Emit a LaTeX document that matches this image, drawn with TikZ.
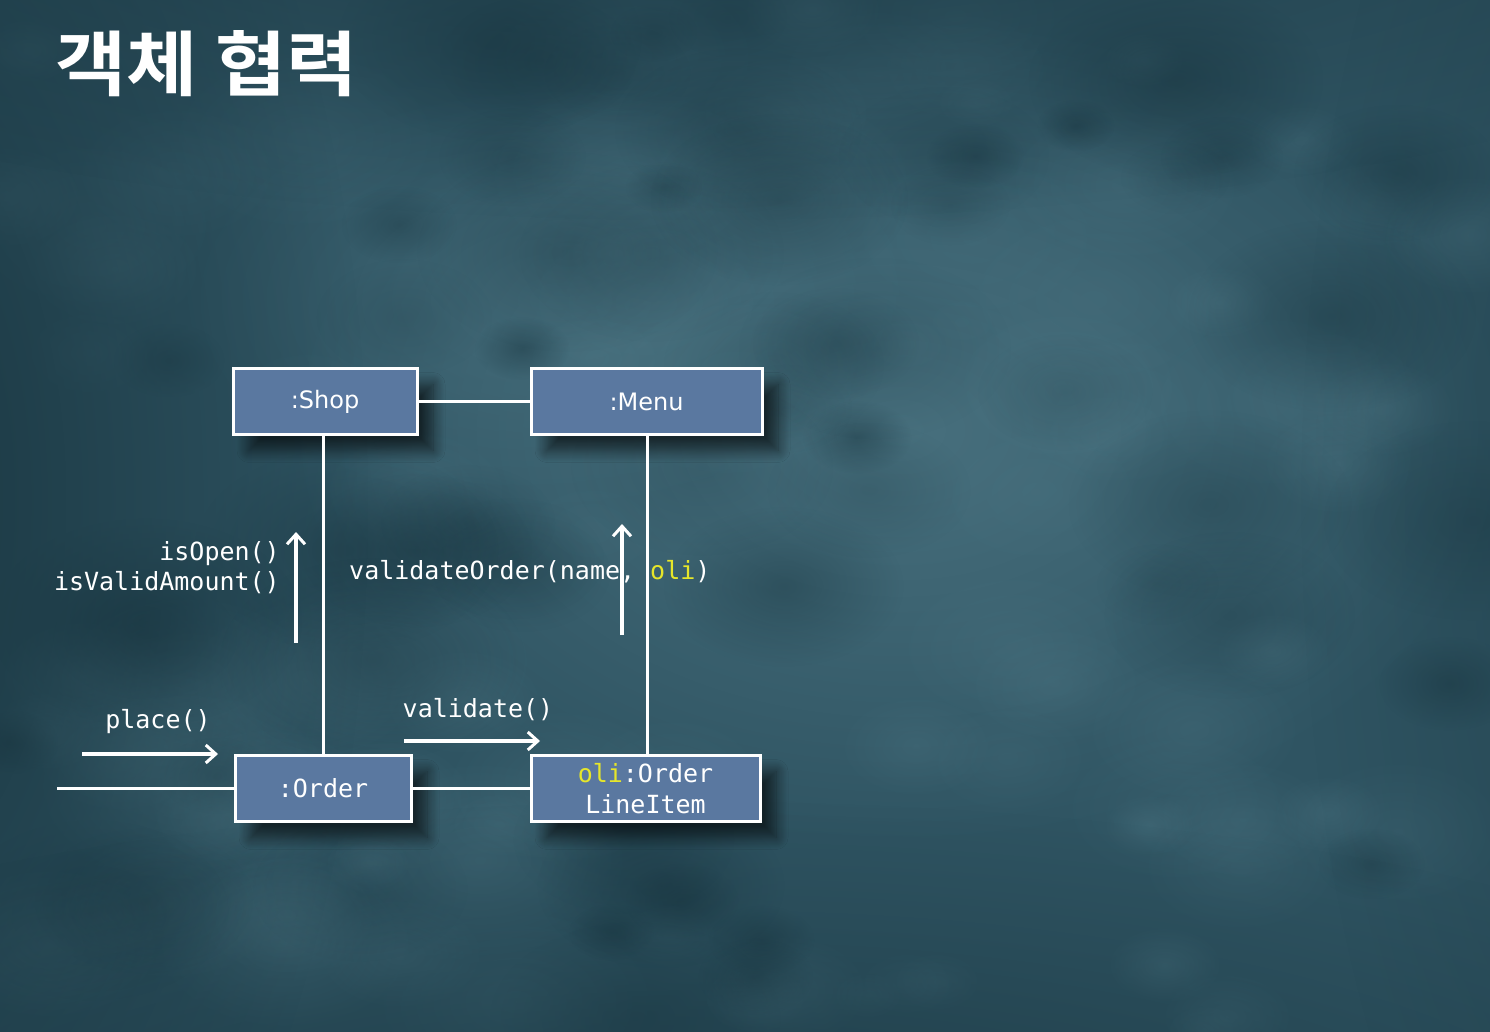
\documentclass[tikz,border=0pt]{standalone}
\usepackage{fontspec}
\setmonofont{DejaVu Sans Mono}
\setsansfont{DejaVu Sans}
\newfontfamily\krfont{Noto Sans CJK KR Bold}
\usetikzlibrary{arrows.meta,shadows.blur,calc,fadings}
\tikzfading[name=softblob, inner color=transparent!0, outer color=transparent!100]
\definecolor{bgmid}{HTML}{2F5462}
\definecolor{bgdark}{HTML}{15303A}
\definecolor{bglight}{HTML}{4E7785}
\definecolor{boxfill}{HTML}{5A78A0}
\definecolor{oliyellow}{HTML}{E6E62A}
\tikzset{
  objbox/.style={draw=white, line width=3pt, fill=boxfill, text=white,
    inner sep=0pt, minimum height=66pt,
    blur shadow={shadow xshift=16pt, shadow yshift=-16pt, shadow blur steps=12, shadow blur radius=12pt, shadow opacity=60}},
  wire/.style={draw=white, line width=3pt},
  msg/.style={draw=white, line width=3.2pt, -{Straight Barb[length=10pt,width=18pt,line width=3pt]}},
  lbl/.style={text=white, font=\ttfamily\fontsize{25}{31}\selectfont, inner sep=0pt},
}
\begin{document}
\begin{tikzpicture}[x=1pt,y=-1pt]
\useasboundingbox (0,0) rectangle (1490,1032);
% background
\fill[bgmid] (0,0) rectangle (1490,1032);
\begin{scope}
\clip (0,0) rectangle (1490,1032);
\fill[bglight, path fading=softblob, opacity=0.8] (900,430) ellipse (620 and 420);
\fill[bglight, path fading=softblob, opacity=0.5] (560,300) ellipse (380 and 220);
\pgfmathsetseed{7}
\foreach \i in {1,...,90}{
  \pgfmathsetmacro{\bx}{rnd*1490}
  \pgfmathsetmacro{\by}{rnd*1032}
  \pgfmathsetmacro{\br}{25+rnd*80}
  \pgfmathsetmacro{\bo}{0.15+rnd*0.25}
  \fill[bglight, path fading=softblob, opacity=\bo] (\bx,\by) ellipse (\br*1.5 and \br);
}
\foreach \i in {1,...,60}{
  \pgfmathsetmacro{\bx}{rnd*1490}
  \pgfmathsetmacro{\by}{rnd*1032}
  \pgfmathsetmacro{\br}{25+rnd*80}
  \pgfmathsetmacro{\bo}{0.15+rnd*0.3}
  \fill[bgdark, path fading=softblob, opacity=\bo] (\bx,\by) ellipse (\br*1.5 and \br);
}
% vignette
\fill[bgdark, path fading=softblob, opacity=0.85] (-150,500) ellipse (520 and 1000);
\fill[bgdark, path fading=softblob, opacity=0.7] (700,-160) ellipse (1300 and 380);
\fill[bgdark, path fading=softblob, opacity=0.7] (700,1200) ellipse (1300 and 400);
\fill[bgdark, path fading=softblob, opacity=0.4] (1650,500) ellipse (350 and 900);
\end{scope}

% title
\node[anchor=west, text=white, inner sep=0pt, xscale=1.09, font=\krfont\fontsize{71}{80}\selectfont] (title) at (55,64) {객체 협력};

% boxes
\node[objbox, minimum width=184pt, font=\sffamily\fontsize{24}{30}\selectfont] (shop) at (325,401.5) {:Shop};
\node[objbox, minimum width=231pt, font=\sffamily\fontsize{24}{30}\selectfont] (menu) at (646.5,401.5) {:Menu};
\node[objbox, minimum width=176pt, font=\ttfamily\fontsize{25}{31}\selectfont] (order) at (323,788.5) {:Order};
\node[objbox, minimum width=229pt, align=center, font=\ttfamily\fontsize{25}{31}\selectfont] (oli) at (645.5,788.5) {\textcolor{oliyellow}{oli}:Order\\LineItem};

% connectors
\draw[wire] (shop.east) -- (menu.west);
\draw[wire] (order.north) -- (order.north |- shop.south);
\draw[wire] ([xshift=1.5pt]oli.north) -- ([xshift=1.5pt]oli.north |- menu.south);
\draw[wire] (order.east) -- (oli.west);
\coordinate (entry) at (57,788.5);
\draw[wire] (entry) -- (order.west);

% messages
\coordinate (p1) at (82,754);
\coordinate (p2) at (218,754);
\draw[msg] (p1) -- (p2);
\node[lbl] (placel) at (158,722) {place()};

\coordinate (v1) at (404,741);
\coordinate (v2) at (540,741);
\draw[msg] (v1) -- (v2);
\node[lbl] (validatel) at (478,710) {validate()};

\coordinate (a1) at (296,643);
\coordinate (a2) at (296,532);
\draw[msg] (a1) -- (a2);
\node[lbl, anchor=east] (isopen) at (280,554) {isOpen()};
\node[lbl, anchor=east] (isvalid) at (280,583) {isValidAmount()};

\node[lbl, anchor=west] (vorder) at (349,572) {validateOrder(name, \textcolor{oliyellow}{oli})};
\coordinate (b1) at (622,635);
\coordinate (b2) at (622,524);
\draw[msg] (b1) -- (b2);
\end{tikzpicture}
\end{document}
